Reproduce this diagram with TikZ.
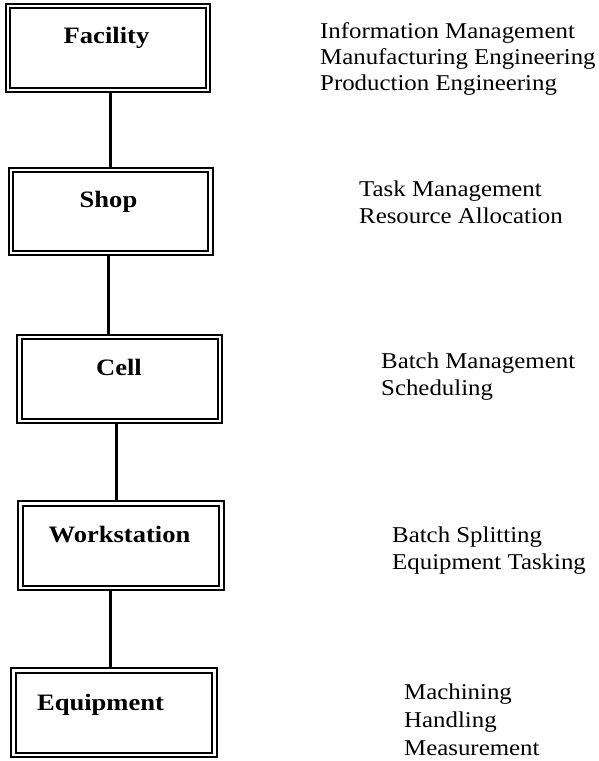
\documentclass[tikz,border=0pt]{standalone}
\usepackage{fontspec}
\usetikzlibrary{backgrounds}
\setmainfont{Liberation Serif}
\newfontfamily\levelfont[FakeStretch=1.13]{Liberation Serif}
\newfontfamily\dutyfont[FakeStretch=1.1]{Liberation Serif}
\begin{document}
\begin{tikzpicture}[x=1pt,y=-1pt,
  level/.style={draw,double,line width=1.9pt,double distance=2.5pt,
    rectangle,inner sep=0pt,anchor=north west},
  levelname/.style={anchor=base,inner sep=0pt,
    font=\levelfont\bfseries\fontsize{23.5}{26}\selectfont},
  duties/.style={anchor=base west,inner sep=0pt,align=left,
    font=\dutyfont\fontsize{22.6}{27}\selectfont},
  link/.style={line width=3pt}]
\useasboundingbox (0,0) rectangle (598,761);

% level boxes (the path runs through the gap of the double rule)
\node[level,minimum width=200pt,minimum height=84pt]   (fac)  at (7,5)       {};
\node[level,minimum width=199.5pt,minimum height=83pt] (shop) at (10,169)    {};
\node[level,minimum width=200.5pt,minimum height=84pt] (cell) at (18.5,336)  {};
\node[level,minimum width=201pt,minimum height=84.5pt] (ws)   at (19.5,502.5){};
\node[level,minimum width=201pt,minimum height=84.5pt] (eq)   at (12.5,669.5){};

% level names
\node[levelname] (facT)  at (106.5,43)  {Facility};
\node[levelname] (shopT) at (108.5,207) {Shop};
\node[levelname] (cellT) at (119,375)   {Cell};
\node[levelname] (wsT)   at (119.5,542) {Workstation};
\node[levelname] (eqT)   at (100.5,710) {Equipment};

% vertical links between levels, kept behind the boxes
\coordinate (l1a) at (110,0 |- fac.south);
\coordinate (l1b) at (110,0 |- shop.north);
\coordinate (l2a) at (108,0 |- shop.south);
\coordinate (l2b) at (108,0 |- cell.north);
\coordinate (l3a) at (116,0 |- cell.south);
\coordinate (l3b) at (116,0 |- ws.north);
\coordinate (l4a) at (110,0 |- ws.south);
\coordinate (l4b) at (110,0 |- eq.north);
\begin{scope}[on background layer]
  \draw[link] (l1a) -- (l1b);
  \draw[link] (l2a) -- (l2b);
  \draw[link] (l3a) -- (l3b);
  \draw[link] (l4a) -- (l4b);
\end{scope}

% functions at each level (positioned by the baseline of the last line)
\node[duties] (facD)  at (320,90)  {Information Management\\[-1pt]Manufacturing Engineering\\[-1pt]Production Engineering};
\node[duties] (shopD) at (359,223) {Task Management\\Resource Allocation};
\node[duties] (cellD) at (381,395) {Batch Management\\Scheduling};
\node[duties] (wsD)   at (392,569) {Batch Splitting\\Equipment Tasking};
\node[duties] (eqD)   at (404,755) {Machining\\[1pt]Handling\\[1pt]Measurement};
\end{tikzpicture}
\end{document}
